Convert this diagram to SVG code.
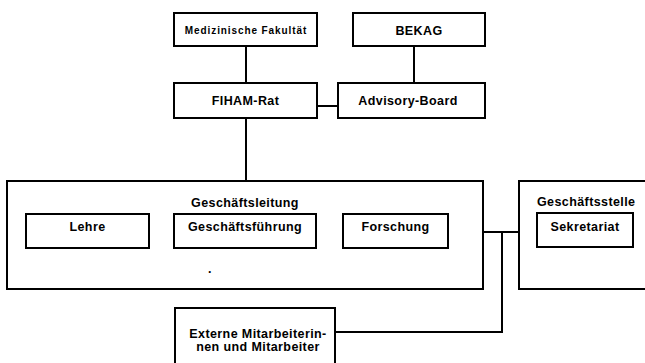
<svg xmlns="http://www.w3.org/2000/svg" width="645" height="363" viewBox="0 0 645 363">
<style>
rect{fill:#fff;stroke:#000;stroke-width:2}
.c line,.c polyline{stroke:#000;stroke-width:2;fill:none}
text{font-family:"Liberation Sans",Arial,sans-serif;font-weight:bold;font-size:12.5px;letter-spacing:0.4px;fill:#000;text-anchor:middle}
.s{font-size:10px;letter-spacing:0.9px}
</style>
<rect x="0" y="0" width="645" height="363" style="stroke:none;fill:#fff"/>
<g class="c">
<line x1="246" y1="46" x2="246" y2="83"/>
<line x1="414" y1="46" x2="414" y2="83"/>
<line x1="317" y1="106" x2="338" y2="106"/>
<line x1="246" y1="118" x2="246" y2="181"/>
<line x1="149" y1="231" x2="174" y2="231"/>
<line x1="316" y1="231" x2="343" y2="231"/>
<line x1="483" y1="232" x2="519" y2="232"/>
<polyline points="502,232 502,332 335,332"/>
</g>
<g id="medfak"><rect x="174" y="13" width="143" height="33"/><text class="s" x="246" y="34">Medizinische Fakultät</text></g>
<g id="bekag"><rect x="353" y="13" width="132" height="33"/><text x="419" y="35">BEKAG</text></g>
<g id="fiham"><rect x="174" y="83" width="143" height="35"/><text x="245.5" y="105">FIHAM-Rat</text></g>
<g id="advisory"><rect x="338" y="83" width="147" height="35"/><text x="408" y="105">Advisory-Board</text></g>
<g id="gl"><rect x="7" y="181" width="476" height="108"/><text x="245" y="207">Geschäftsleitung</text><text x="210" y="273">.</text></g>
<g id="lehre"><rect x="26" y="214" width="123" height="34"/><text x="87.5" y="231">Lehre</text></g>
<g id="gf"><rect x="174" y="214" width="142" height="34"/><text x="245" y="231">Geschäftsführung</text></g>
<g id="forschung"><rect x="343" y="214" width="105" height="34"/><text x="395.5" y="231">Forschung</text></g>
<g id="gs"><rect x="519" y="181" width="140" height="108"/><text x="537" y="206" style="text-anchor:start">Geschäftsstelle</text></g>
<g id="sek"><rect x="537" y="213" width="96" height="34"/><text x="585" y="231">Sekretariat</text></g>
<g id="ext"><rect x="175" y="308" width="160" height="70"/><text x="258" y="338">Externe Mitarbeiterin-</text><text x="258" y="351">nen und Mitarbeiter</text></g>
</svg>
